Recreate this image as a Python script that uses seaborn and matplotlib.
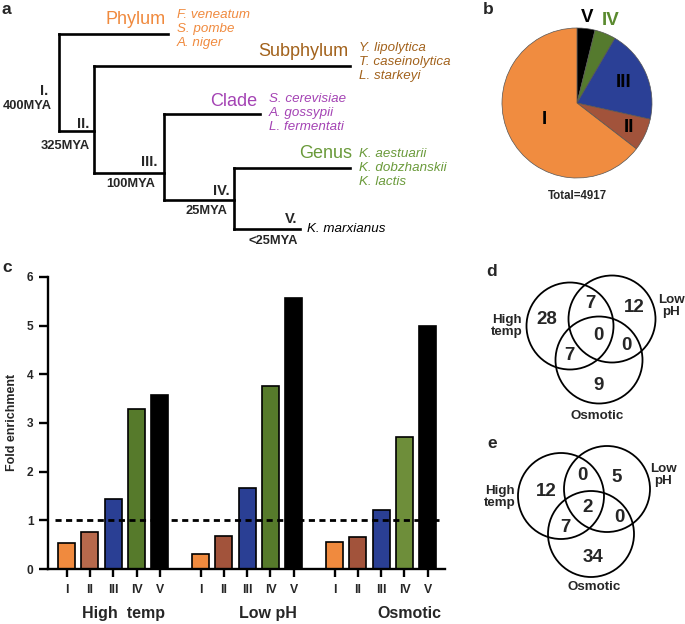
import numpy as np
import pandas as pd
import matplotlib
matplotlib.use("Agg")
import matplotlib.pyplot as plt
from matplotlib.patches import Circle
import seaborn as sns

# ---- data ----
ranks = ["Phylum", "Subphylum", "Clade", "Genus", ""]
rank_colors = ["#F08A3E", "#A2621C", "#A443B4", "#6A9A3A", "#000000"]
node_labels = ["I.", "II.", "III.", "IV.", "V."]
ages = ["400MYA", "325MYA", "100MYA", "25MYA", "<25MYA"]
species = [
    ["F. veneatum", "S. pombe", "A. niger"],
    ["Y. lipolytica", "T. caseinolytica", "L. starkeyi"],
    ["S. cerevisiae", "A. gossypii", "L. fermentati"],
    ["K. aestuarii", "K. dobzhanskii", "K. lactis"],
    ["K. marxianus"],
]

pie_labels = ["V", "IV", "III", "II", "I"]
pie_counts = [190, 225, 985, 344, 3173]
pie_colors = ["#000000", "#557A2E", "#2B4096", "#A2533B", "#F08C40"]
pie_label_colors = ["#000000", "#5A8A2E", "#000000", "#000000", "#000000"]

conditions = ["High  temp", "Low pH", "Osmotic"]
groups = ["I", "II", "III", "IV", "V"]
high_temp = [0.54, 0.77, 1.43, 3.29, 3.57]
low_ph = [0.31, 0.67, 1.67, 3.75, 5.56]
osmotic = [0.56, 0.65, 1.21, 2.72, 4.98]
bar_colors = [
    ["#F08A3E", "#B7694C", "#2A3F94", "#567A2B", "#000000"],
    ["#F08A3E", "#A2533B", "#2A3F94", "#567A2B", "#000000"],
    ["#F08A3E", "#A2533B", "#2A3F94", "#6E8E3A", "#000000"],
]

venn_sets = ["High\ntemp", "Low\npH", "Osmotic"]
# regions: HT only, LpH only, Osm only, HT&LpH, HT&Osm, LpH&Osm, all
venn_d = [28, 12, 9, 7, 7, 0, 0]
venn_e = [12, 5, 34, 0, 7, 0, 2]

# ---- figure ----
sns.set_theme(style="ticks")
plt.rcParams["font.family"] = ["Liberation Sans", "DejaVu Sans"]

fig = plt.figure(figsize=(6.85, 6.24), dpi=100)
fig.patch.set_facecolor("white")

# overlay in pixel coordinates for the schematic panels
ov = fig.add_axes([0, 0, 1, 1])
ov.set_xlim(0, 685)
ov.set_ylim(624, 0)
ov.axis("off")

# ---- panel a: tree ----
node_x = [59, 94, 164, 234, 234]
tip_y = [34, 66, 114, 168, 229]
tip_end = [168, 350, 260, 350, 300]
stem_y = [None, 131, 173, 200, 229]
lw_tree = 1.9
for i in range(5):
    ov.plot([node_x[i], tip_end[i]], [tip_y[i], tip_y[i]], color="black", lw=lw_tree,
            solid_capstyle="projecting")
    if i > 0:
        ov.plot([node_x[i - 1], node_x[i]], [stem_y[i], stem_y[i]], color="black", lw=lw_tree,
                solid_capstyle="projecting")
    if i < 4:
        ov.plot([node_x[i], node_x[i]], [tip_y[i], stem_y[i + 1]], color="black", lw=lw_tree,
                solid_capstyle="projecting")

rank_pos = [(166, 20), (348, 52), (257, 102), (352, 154)]
for i, (x, y) in enumerate(rank_pos):
    ov.text(x, y, ranks[i], color=rank_colors[i], fontsize=13, ha="right", va="center")

sp_start = [(177, 15), (359, 48), (269, 99), (359, 154), (307, 229)]
for i, (x, y) in enumerate(sp_start):
    for j, s in enumerate(species[i]):
        ov.text(x, y + 14 * j, s, color=rank_colors[i], fontsize=9.6, style="italic",
                ha="left", va="center")

node_pos = [(48, 91), (89, 124), (158, 162), (230, 191), (297, 219)]
age_pos = [(52, 106), (90, 146), (155, 184), (227, 211), (298, 241)]
for i in range(5):
    ov.text(node_pos[i][0], node_pos[i][1], node_labels[i], fontsize=10.5, weight="bold",
            ha="right", va="center")
    ov.text(age_pos[i][0], age_pos[i][1], ages[i], fontsize=9.3, weight="bold",
            ha="right", va="center")

# panel letters
for lab, (x, y) in zip("abcde", [(6, 10), (488, 10), (7, 268), (492, 271), (492, 444)]):
    ov.text(x, y, lab, fontsize=12.5, weight="bold", ha="center", va="center")

# ---- panel b: pie ----
axp = fig.add_axes([502 / 685, 446 / 624, 150 / 685, 150 / 624])
wedges, _ = axp.pie(pie_counts, colors=pie_colors, startangle=90, counterclock=False,
                    wedgeprops=dict(edgecolor="#555555", linewidth=0.5))
axp.set_xlim(-1, 1)
axp.set_ylim(-1, 1)
label_r = [1.15, 1.19, 0.68, 0.76, 0.49]
for w, lab, r, c in zip(wedges, pie_labels, label_r, pie_label_colors):
    ang = np.deg2rad((w.theta1 + w.theta2) / 2)
    axp.text(r * np.cos(ang), r * np.sin(ang), lab, color=c, fontsize=13.5, weight="bold",
             ha="center", va="center", clip_on=False)
axp.text(0, -1.24, f"Total={sum(pie_counts)}", fontsize=8.3, weight="bold",
         ha="center", va="center", clip_on=False)

# ---- panel c: bars ----
offsets = [0, 5.75, 11.5]
rows = []
for ci, vals in enumerate([high_temp, low_ph, osmotic]):
    for gi, v in enumerate(vals):
        rows.append({"condition": conditions[ci], "group": groups[gi],
                     "pos": offsets[ci] + gi, "value": v, "color": bar_colors[ci][gi]})
df = pd.DataFrame(rows)

axb = fig.add_axes([48 / 685, 55 / 624, 397 / 685, 292.2 / 624])
sns.barplot(data=df, x="pos", y="value", native_scale=True, width=0.73,
            color="gray", edgecolor="black", linewidth=1.2, ax=axb)
for patch, c in zip(axb.patches, df["color"]):
    patch.set_facecolor(c)
axb.set_xlim(-0.8, 16.24)
axb.set_ylim(0, 6)
axb.axhline(1, xmin=0.017, xmax=0.985, color="black", lw=2.0, ls=(0, (2.2, 1.6)))
sns.despine(ax=axb)
for side in ["left", "bottom"]:
    axb.spines[side].set_linewidth(1.7)
    axb.spines[side].set_color("black")
axb.set_xticks(df["pos"])
axb.set_xticklabels(df["group"], fontsize=8.8, weight="bold")
axb.set_yticks(range(7))
axb.set_yticklabels([str(v) for v in range(7)], fontsize=8.6, weight="bold")
axb.tick_params(axis="x", length=6, width=1.7, pad=5, color="black")
axb.tick_params(axis="y", length=6.5, width=1.7, pad=4, color="black")
axb.set_xlabel("")
axb.set_ylabel("Fold enrichment", fontsize=9, weight="bold", labelpad=6)
cond_x = [2.42, 8.64, 14.73]
for name, x in zip(conditions, cond_x):
    axb.text(x, -0.1506, name, transform=axb.get_xaxis_transform(), fontsize=11.5,
             weight="bold", ha="center", va="center")

# ---- panels d and e: Venn ----
def venn(counts, centers, r, num_pos, set_pos):
    for cx, cy in centers:
        ov.add_patch(Circle((cx, cy), r, fill=False, edgecolor="black", lw=1.3))
    for n, (x, y) in zip(counts, num_pos):
        ov.text(x, y, str(n), fontsize=13.5, weight="bold", ha="center", va="center")
    for name, (x, y) in zip(venn_sets, set_pos):
        ov.text(x, y, name, fontsize=9.6, weight="bold", ha="center", va="center",
                linespacing=1.0)

venn(venn_d, [(570, 326), (612, 319), (599, 360)], 43.5,
     [(547, 320), (634, 307), (599, 385), (590, 303), (569, 355), (626, 345), (598, 336)],
     [(507, 326), (671, 306), (597, 416)])
venn(venn_e, [(561, 496), (607, 489), (591, 534)], 43,
     [(546, 492), (617, 478), (593, 558), (582, 476), (565, 527), (619, 518), (588, 508)],
     [(500, 497), (663, 475), (594, 587)])

fig.savefig("out.png", dpi=100, facecolor="white")
